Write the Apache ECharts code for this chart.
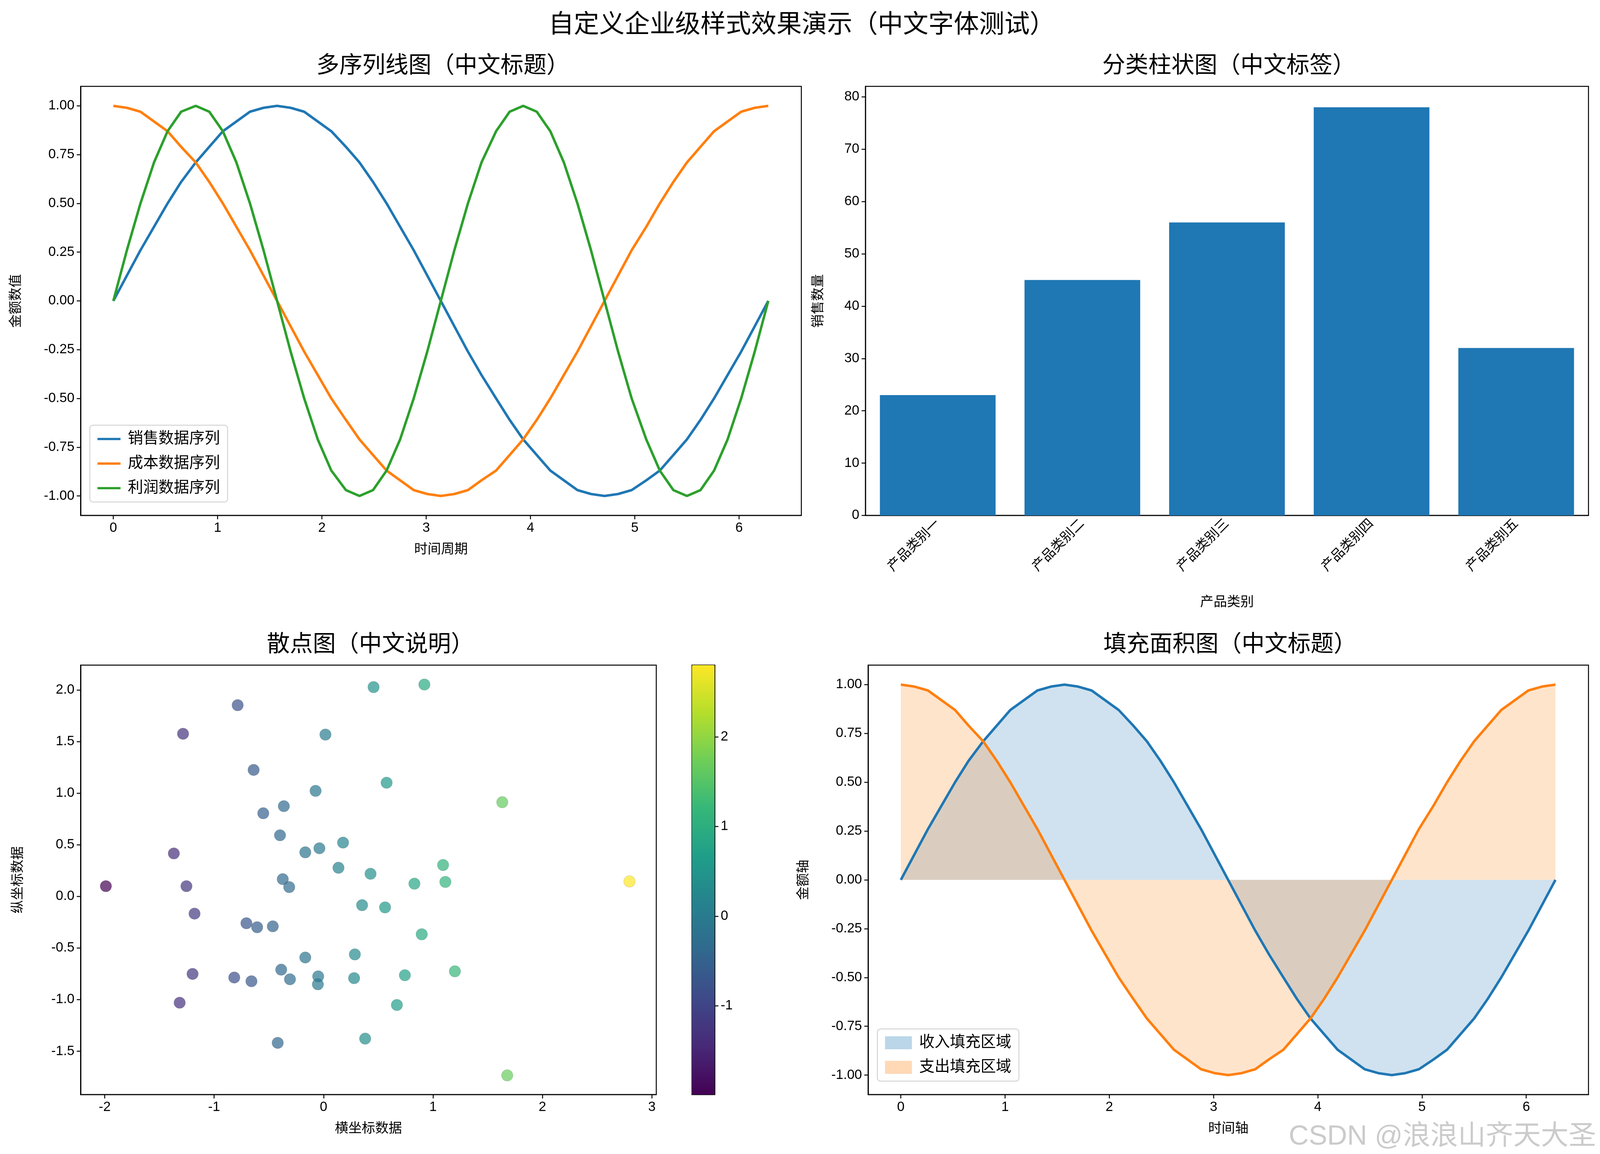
<!DOCTYPE html>
<html>
<head>
<meta charset="utf-8">
<script src="https://cdn.jsdelivr.net/npm/echarts@6/dist/echarts.min.js"></script>
<style>html,body{margin:0;padding:0;overflow:hidden;background:#fff}#chart{width:100vw;height:100vh}</style>
</head>
<body>
<div id="chart"></div>
<script>
// 线图数据（读图取值）
let timeX = [0,.13,.26,.39,.52,.65,.79,.92,1.05,1.18,1.31,1.44,1.57,1.70,1.83,1.96,2.09,2.23,2.36,2.49,2.62,2.75,2.88,3.01,3.14,
	3.27,3.40,3.53,3.67,3.80,3.93,4.06,4.19,4.32,4.45,4.58,4.71,4.84,4.97,5.11,5.24,5.37,5.50,5.63,5.76,5.89,6.02,6.15,6.28];
let salesY = [0,.13,.26,.38,.5,.61,.71,.79,.87,.92,.97,.99,1,.99,.97,.92,.87,.79,.71,.61,.5,.38,.26,.13,0,
	-.13,-.26,-.38,-.5,-.61,-.71,-.79,-.87,-.92,-.97,-.99,-1,-.99,-.97,-.92,-.87,-.79,-.71,-.61,-.5,-.38,-.26,-.13,0];
let costY = [1,.99,.97,.92,.87,.79,.71,.61,.5,.38,.26,.13,0,-.13,-.26,-.38,-.5,-.61,-.71,-.79,-.87,-.92,-.97,-.99,-1,
	-.99,-.97,-.92,-.87,-.79,-.71,-.61,-.5,-.38,-.26,-.13,0,.13,.26,.38,.5,.61,.71,.79,.87,.92,.97,.99,1];
let profitY = [0,.26,.5,.71,.87,.97,1,.97,.87,.71,.5,.26,0,-.26,-.5,-.71,-.87,-.97,-1,-.97,-.87,-.71,-.5,-.26,0,
	.26,.5,.71,.87,.97,1,.97,.87,.71,.5,.26,0,-.26,-.5,-.71,-.87,-.97,-1,-.97,-.87,-.71,-.5,-.26,0];

// 柱状图数据
let categories = ['产品类别一','产品类别二','产品类别三','产品类别四','产品类别五'];
let barValues = [23,45,56,78,32];

// 散点数据 [x, y]
let scatterPts = [
 [0.457,2.027],[0.921,2.052],[-0.785,1.852],[-1.284,1.575],[0.017,1.567],[-0.639,1.225],[0.576,1.101],
 [-0.073,1.022],[1.633,0.912],[-0.363,0.874],[-0.551,0.805],[-0.398,0.592],[0.178,0.521],[-0.038,0.466],
 [-0.167,0.427],[-1.368,0.416],[1.092,0.304],[0.136,0.277],[0.429,0.219],[-0.373,0.167],[1.113,0.140],
 [0.830,0.123],[2.795,0.145],[-1.989,0.099],[-1.253,0.099],[-0.314,0.090],[0.352,-0.085],[0.562,-0.107],
 [-1.179,-0.167],[-0.705,-0.260],[-0.607,-0.299],[-0.464,-0.290],[0.897,-0.367],[-0.167,-0.592],[0.286,-0.562],
 [-1.197,-0.751],[-0.816,-0.786],[-0.659,-0.822],[-0.387,-0.710],[-0.307,-0.803],[-0.049,-0.775],[-0.052,-0.852],
 [0.279,-0.792],[0.743,-0.764],[1.200,-0.726],[-1.315,-1.030],[0.670,-1.052],[-0.419,-1.419],[0.380,-1.378],[1.678,-1.734]
];

let lineYTicks = [-1,-0.75,-0.5,-0.25,0,0.25,0.5,0.75,1];
let lineXTicks = [0,1,2,3,4,5,6];
let barYTicks = [0,10,20,30,40,50,60,70,80];
let scatterXTicks = [-2,-1,0,1,2,3];
let scatterYTicks = [-1.5,-1,-0.5,0,0.5,1,1.5,2];
let cbarTicks = [-1,0,1,2];

const viridis = ['#440154','#482878','#3e4989','#31688e','#26828e','#1f9e89','#35b779','#6ece58','#b5de2b','#fde725'];
const FONT = '"Liberation Sans", "Noto Sans CJK SC", sans-serif';
const black = '#000';

var myChart = echarts.init(document.getElementById('chart'));
// 按 4169x2953 设计，缩放到实际容器大小
const sx = myChart.getWidth() / 4169, sy = myChart.getHeight() / 2953, s = Math.min(sx, sy);
const X = v => v * sx, Y = v => v * sy, S = v => v * s;

function pair(xs, ys) { return xs.map((x, i) => [x, ys[i]]); }

function valAxis(min, max, ticks, fmt, extra) {
	return Object.assign({
		type: 'value', min: min, max: max,
		axisLine: { show: true, onZero: false, lineStyle: { color: black, width: S(2.5) } },
		axisTick: { show: true, length: S(10), lineStyle: { color: black, width: S(2.5) }, customValues: ticks },
		axisLabel: { color: black, fontSize: S(35), fontFamily: FONT, margin: S(16), customValues: ticks, formatter: fmt },
		splitLine: { show: false },
		nameLocation: 'middle', nameTextStyle: { color: black, fontSize: S(35), fontFamily: FONT }
	}, extra || {});
}
const f2 = v => v.toFixed(2);
const f1 = v => v.toFixed(1);
const f0 = v => String(v);

const grids = [
	[210, 221, 1878, 1098],
	[2255, 221, 1884, 1098],
	[210, 1702, 1500, 1099],
	[2262, 1702, 1877, 1099],
	[1803, 1702, 59, 1099]
].map(g => ({ left: X(g[0]), top: Y(g[1]), width: X(g[2]), height: Y(g[3]), show: true, outerBoundsMode: 'none',
	containLabel: false, borderColor: black, borderWidth: S(2.5), backgroundColor: 'transparent' }));

function title(text, x, y, size) {
	return { text: text, left: X(x), top: Y(y), textAlign: 'center',
		textStyle: { fontFamily: FONT, fontSize: S(size), fontWeight: 'normal', color: black } };
}

const legendText = { fontSize: S(40), fontFamily: FONT, color: black, padding: [0, 0, 0, S(14)] };

option = {
	animation: false,
	backgroundColor: '#fff',
	title: [
		title('自定义企业级样式效果演示（中文字体测试）', 2084, 28, 66),
		title('多序列线图（中文标题）', 1149, 135, 60),
		title('分类柱状图（中文标签）', 3197, 135, 60),
		title('散点图（中文说明）', 960, 1616, 60),
		title('填充面积图（中文标题）', 3200, 1616, 60)
	],
	grid: grids,
	xAxis: [
		valAxis(-0.314, 6.597, lineXTicks, f0, { gridIndex: 0, name: '时间周期', nameGap: Y(70) }),
		{ type: 'category', gridIndex: 1, data: categories,
		  axisLine: { lineStyle: { color: black, width: S(2.5) } },
		  axisTick: { alignWithLabel: true, length: S(10), lineStyle: { color: black, width: S(2.5) } },
		  axisLabel: { color: black, fontSize: S(35), fontFamily: FONT, rotate: 45, margin: S(16) },
		  name: '产品类别', nameLocation: 'middle', nameGap: Y(205),
		  nameTextStyle: { color: black, fontSize: S(35), fontFamily: FONT } },
		valAxis(-2.22, 3.04, scatterXTicks, f0, { gridIndex: 2, name: '横坐标数据', nameGap: Y(70) }),
		valAxis(-0.314, 6.597, lineXTicks, f0, { gridIndex: 3, name: '时间轴', nameGap: Y(70) }),
		{ type: 'value', gridIndex: 4, show: false, min: 0, max: 1 }
	],
	yAxis: [
		valAxis(-1.1, 1.1, lineYTicks, f2, { gridIndex: 0, name: '金额数值', nameGap: X(150) }),
		valAxis(0, 82, barYTicks, f0, { gridIndex: 1, name: '销售数量', nameGap: X(105) }),
		valAxis(-1.92, 2.24, scatterYTicks, f1, { gridIndex: 2, name: '纵坐标数据', nameGap: X(145) }),
		valAxis(-1.1, 1.1, lineYTicks, f2, { gridIndex: 3, name: '金额轴', nameGap: X(150) }),
		valAxis(-1.99, 2.8, cbarTicks, f0, { gridIndex: 4, position: 'right' })
	],
	legend: [
		{ left: X(234), top: Y(1088), orient: 'vertical', itemGap: S(24), itemWidth: S(60), itemHeight: S(6),
		  backgroundColor: 'rgba(255,255,255,0.8)', borderColor: '#ccc', borderWidth: S(2), borderRadius: S(8), padding: [S(16), S(20)],
		  textStyle: legendText,
		  data: [
			{ name: '销售数据序列', icon: 'rect' },
			{ name: '成本数据序列', icon: 'rect' },
			{ name: '利润数据序列', icon: 'rect' }
		  ] },
		{ left: X(2286), top: Y(2633), orient: 'vertical', itemGap: S(24), itemWidth: S(70), itemHeight: S(34),
		  backgroundColor: 'rgba(255,255,255,0.8)', borderColor: '#ccc', borderWidth: S(2), borderRadius: S(8), padding: [S(16), S(20)],
		  textStyle: legendText,
		  data: [
			{ name: '收入填充区域', icon: 'rect', itemStyle: { color: 'rgba(31,119,180,0.3)' } },
			{ name: '支出填充区域', icon: 'rect', itemStyle: { color: 'rgba(255,127,14,0.3)' } }
		  ] }
	],
	visualMap: {
		type: 'continuous', seriesIndex: 4, dimension: 0, min: -1.99, max: 2.8,
		calculable: false, show: true, text: null, showLabel: false,
		left: X(1803), top: Y(1702), itemWidth: X(59), itemHeight: Y(1099), padding: 0,
		inRange: { color: viridis, opacity: 0.7 }
	},
	series: [
		{ name: '销售数据序列', type: 'line', xAxisIndex: 0, yAxisIndex: 0, data: pair(timeX, salesY),
		  symbol: 'none', color: '#1f77b4', lineStyle: { width: S(6.5) } },
		{ name: '成本数据序列', type: 'line', xAxisIndex: 0, yAxisIndex: 0, data: pair(timeX, costY),
		  symbol: 'none', color: '#ff7f0e', lineStyle: { width: S(6.5) } },
		{ name: '利润数据序列', type: 'line', xAxisIndex: 0, yAxisIndex: 0, data: pair(timeX, profitY),
		  symbol: 'none', color: '#2ca02c', lineStyle: { width: S(6.5) } },
		{ type: 'bar', xAxisIndex: 1, yAxisIndex: 1, data: barValues, barCategoryGap: '20%', itemStyle: { color: '#1f77b4' } },
		{ type: 'scatter', xAxisIndex: 2, yAxisIndex: 2, data: scatterPts, symbolSize: S(30),
		  itemStyle: { borderColor: 'rgba(0,0,0,0.15)', borderWidth: S(1.5) } },
		{ name: '收入填充区域', type: 'line', xAxisIndex: 3, yAxisIndex: 3, data: pair(timeX, salesY),
		  symbol: 'none', color: '#1f77b4', lineStyle: { width: S(6.5) }, areaStyle: { color: 'rgba(31,119,180,0.3)', origin: 0 } },
		{ name: '支出填充区域', type: 'line', xAxisIndex: 3, yAxisIndex: 3, data: pair(timeX, costY),
		  symbol: 'none', color: '#ff7f0e', lineStyle: { width: S(6.5) }, areaStyle: { color: 'rgba(255,127,14,0.3)', origin: 0 } }
	],
	graphic: [
		{ type: 'text', right: X(10), bottom: Y(8), style: { text: 'CSDN @浪浪山齐天大圣', fontSize: S(72), fontFamily: FONT, fill: 'rgba(160,160,160,0.55)' } }
	]
};
myChart.setOption(option);
</script>
</body>
</html>
